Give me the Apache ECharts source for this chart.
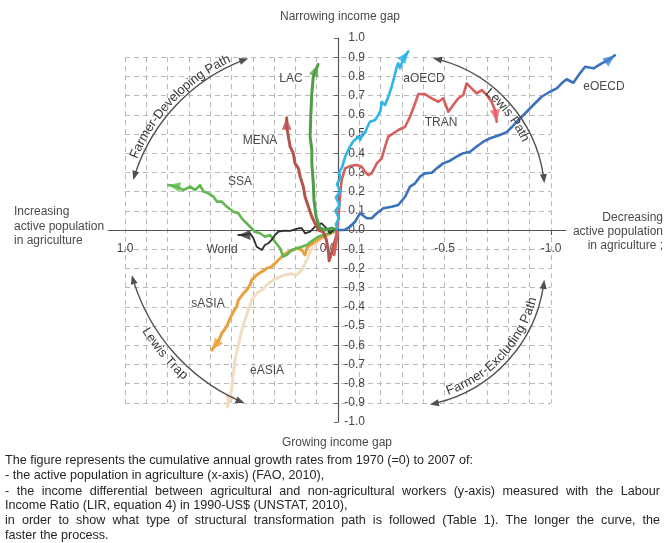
<!DOCTYPE html>
<html><head><meta charset="utf-8">
<script src="https://cdn.jsdelivr.net/npm/echarts@6/dist/echarts.min.js"></script>
<style>html,body{margin:0;padding:0;background:#fff}#c{width:667px;height:543px}</style>
</head><body><div id="c"></div>
<script>
// ---------------- DATA (cumulative growth 1970=0 .. 2007) ----------------
const xTickLabels = [1, 0, -0.5, -1];
const eOECD = [[0,0],[-0.03,0.0],[-0.056,0.017],[-0.08,0.043],[-0.103,0.087],[-0.135,0.061],[-0.158,0.061],[-0.182,0.087],[-0.213,0.113],[-0.252,0.121],[-0.283,0.13],[-0.315,0.173],[-0.338,0.226],[-0.362,0.243],[-0.385,0.278],[-0.408,0.295],[-0.44,0.298],[-0.463,0.321],[-0.494,0.347],[-0.526,0.361],[-0.557,0.382],[-0.588,0.4],[-0.62,0.408],[-0.651,0.435],[-0.682,0.46],[-0.714,0.478],[-0.753,0.492],[-0.792,0.51],[-0.815,0.535],[-0.847,0.573],[-0.886,0.616],[-0.925,0.66],[-0.956,0.694],[-0.995,0.72],[-1.027,0.738],[-1.05,0.764],[-1.073,0.785],[-1.105,0.767],[-1.136,0.816],[-1.16,0.85],[-1.2,0.842],[-1.238,0.868],[-1.27,0.885],[-1.3,0.91]];
const aOECD = [[0,0],[0.01,0.03],[-0.005,0.06],[0.012,0.1],[-0.008,0.13],[0.01,0.17],[-0.01,0.2],[0.005,0.24],[-0.012,0.27],[-0.005,0.3],[-0.02,0.33],[-0.033,0.38],[-0.045,0.41],[-0.056,0.434],[-0.07,0.46],[-0.08,0.47],[-0.095,0.486],[-0.105,0.47],[-0.115,0.5],[-0.127,0.505],[-0.135,0.53],[-0.15,0.564],[-0.174,0.573],[-0.19,0.6],[-0.2,0.625],[-0.205,0.668],[-0.221,0.651],[-0.236,0.694],[-0.252,0.746],[-0.268,0.816],[-0.276,0.851],[-0.283,0.868],[-0.291,0.842],[-0.307,0.894],[-0.33,0.93]];
const TRAN = [[0,0],[0.008,-0.06],[0.018,-0.13],[0.012,-0.07],[0.003,0.0],[-0.003,0.08],[-0.009,0.173],[-0.017,0.26],[-0.033,0.321],[-0.056,0.333],[-0.088,0.339],[-0.111,0.33],[-0.127,0.304],[-0.142,0.286],[-0.158,0.295],[-0.182,0.347],[-0.205,0.373],[-0.221,0.434],[-0.236,0.486],[-0.26,0.503],[-0.283,0.521],[-0.315,0.538],[-0.338,0.59],[-0.362,0.66],[-0.377,0.708],[-0.408,0.708],[-0.44,0.686],[-0.471,0.668],[-0.494,0.686],[-0.518,0.616],[-0.541,0.651],[-0.565,0.686],[-0.588,0.703],[-0.604,0.764],[-0.627,0.738],[-0.651,0.712],[-0.675,0.729],[-0.698,0.703],[-0.721,0.668],[-0.737,0.625],[-0.745,0.564]];
const LAC = [[0,0],[0.03,0.01],[0.06,0.0],[0.085,0.01],[0.092,0.017],[0.103,0.069],[0.113,0.156],[0.116,0.243],[0.12,0.3],[0.123,0.347],[0.123,0.417],[0.131,0.486],[0.128,0.59],[0.123,0.712],[0.116,0.8],[0.094,0.862]];
const MENA = [[0,0],[0.015,-0.06],[0.03,-0.12],[0.042,-0.16],[0.045,-0.11],[0.055,-0.05],[0.07,-0.01],[0.092,0.0],[0.108,0.035],[0.123,0.069],[0.139,0.121],[0.155,0.173],[0.163,0.226],[0.178,0.278],[0.186,0.321],[0.202,0.347],[0.21,0.4],[0.225,0.434],[0.233,0.486],[0.241,0.538],[0.241,0.585]];
const SSA = [[0,0],[0.03,-0.01],[0.05,-0.02],[0.069,-0.026],[0.092,-0.035],[0.116,-0.052],[0.147,-0.078],[0.17,-0.087],[0.194,-0.095],[0.217,-0.104],[0.241,-0.13],[0.257,-0.139],[0.272,-0.095],[0.296,-0.061],[0.319,-0.026],[0.343,-0.035],[0.366,-0.017],[0.39,-0.009],[0.413,0.017],[0.429,0.035],[0.452,0.061],[0.468,0.087],[0.491,0.095],[0.523,0.122],[0.546,0.148],[0.569,0.148],[0.585,0.174],[0.609,0.191],[0.632,0.2],[0.648,0.234],[0.671,0.208],[0.695,0.226],[0.726,0.208],[0.757,0.226],[0.797,0.234]];
const World = [[0,0],[0.022,0.0],[0.038,-0.017],[0.055,0.01],[0.077,0.035],[0.095,0.025],[0.108,0.017],[0.131,-0.009],[0.155,-0.017],[0.163,-0.017],[0.17,0.009],[0.186,0.009],[0.194,0.004],[0.225,-0.005],[0.257,-0.004],[0.28,-0.009],[0.296,-0.026],[0.312,-0.052],[0.327,-0.069],[0.343,-0.078],[0.358,-0.104],[0.382,-0.087],[0.397,-0.043],[0.413,-0.017],[0.437,-0.026],[0.468,-0.026]];
const sASIA = [[0,0],[0.03,-0.015],[0.06,-0.03],[0.085,-0.043],[0.108,-0.061],[0.131,-0.078],[0.147,-0.095],[0.155,-0.13],[0.17,-0.104],[0.194,-0.095],[0.21,-0.104],[0.233,-0.113],[0.257,-0.13],[0.28,-0.156],[0.296,-0.174],[0.312,-0.191],[0.335,-0.2],[0.358,-0.217],[0.382,-0.234],[0.405,-0.26],[0.413,-0.286],[0.429,-0.313],[0.444,-0.33],[0.468,-0.365],[0.476,-0.399],[0.491,-0.425],[0.507,-0.46],[0.523,-0.503],[0.546,-0.538],[0.562,-0.58],[0.593,-0.625]];
const eASIA = [[0,0],[0.03,-0.01],[0.06,-0.03],[0.092,-0.061],[0.116,-0.087],[0.131,-0.113],[0.139,-0.139],[0.155,-0.174],[0.17,-0.208],[0.194,-0.234],[0.22,-0.228],[0.249,-0.234],[0.272,-0.243],[0.303,-0.26],[0.335,-0.286],[0.358,-0.313],[0.382,-0.33],[0.405,-0.365],[0.421,-0.417],[0.437,-0.469],[0.452,-0.521],[0.468,-0.599],[0.484,-0.677],[0.491,-0.747],[0.5,-0.833],[0.51,-0.88],[0.52,-0.92]];

const captionLines = [
  {t:'The figure represents the cumulative annual growth rates from 1970 (=0) to 2007 of:', j:false},
  {t:'- the active population in agriculture (x-axis) (FAO, 2010),', j:false},
  {t:'- the income differential between agricultural and non-agricultural workers (y-axis) measured with the Labour', j:true},
  {t:'Income Ratio (LIR, equation 4) in 1990-US$ (UNSTAT, 2010),', j:false},
  {t:'in order to show what type of structural transformation path is followed (Table 1). The longer the curve, the', j:true},
  {t:'faster the process.', j:false}
];

// ---------------- STYLE ----------------
const FF = '"Liberation Sans", Arial, Helvetica, sans-serif';
const series = [
  {name:'eASIA', data:eASIA, color:'#f2dcc2', arrow:'#f0d6b8', w:3, lx:267, ly:371},
  {name:'sASIA', data:sASIA, color:'#e9a140', arrow:'#eea13a', w:3, lx:208, ly:304},
  {name:'SSA',   data:SSA,   color:'#62b74e', arrow:'#5fbf4c', w:2.6, lx:240, ly:182},
  {name:'World', data:World, color:'#2e2e2e', arrow:'#333333', w:1.8, lx:222, ly:250},
  {name:'MENA',  data:MENA,  color:'#b5544a', arrow:'#c0504a', w:3, lx:260, ly:141},
  {name:'LAC',   data:LAC,   color:'#4f9d47', arrow:'#55a34c', w:3, lx:291, ly:79},
  {name:'TRAN',  data:TRAN,  color:'#d65f5d', arrow:'#ee5e6c', w:2.6, lx:441, ly:123},
  {name:'aOECD', data:aOECD, color:'#2db6e6', arrow:'#27b3e8', w:2.6, lx:424, ly:79},
  {name:'eOECD', data:eOECD, color:'#3b72bb', arrow:'#3a7fcf', w:2.6, lx:604, ly:87}
];

const measureCtx = document.createElement('canvas').getContext('2d');
function tw(text, font){ measureCtx.font = font; return measureCtx.measureText(text).width; }

function txt(x, y, text, font, fill, align, valign, rot){
  return {type:'text', x:x, y:y, rotation:rot||0, silent:true, z:20,
    style:{text:text, font:font, fill:fill, textFill:fill, align:align||'center', textAlign:align||'center',
           verticalAlign:valign||'middle', textVerticalAlign:valign||'middle'}};
}

const G = [];
series.forEach(s => G.push(txt(s.lx, s.ly, s.name, '12px ' + FF, '#4a4a4a')));
G.push(txt(340, 17, 'Narrowing income gap', '12px ' + FF, '#4a4a4a'));
G.push(txt(337, 443, 'Growing income gap', '12px ' + FF, '#4a4a4a'));
['Increasing','active population','in agriculture'].forEach((t,i)=>G.push(txt(14, 212 + i*14.5, t, '12px ' + FF, '#4a4a4a', 'left')));
['Decreasing','active population','in agriculture ;'].forEach((t,i)=>G.push(txt(663, 218 + i*14, t, '12px ' + FF, '#4a4a4a', 'right')));

// curved path arrows with text
const arcs = [
  {cx:309, cy:231, r:183, a0:196.2, a1:250.6, text:'Farmer-Developing Path', tr:190, tm:224, out:true},
  {cx:403, cy:197, r:142, a0:282.2, a1:354.4, text:'Lewis Path', tr:135, tm:322, out:true},
  {cx:319, cy:224, r:194, a0:112.6, a1:164.7, text:'Lewis Trap', tr:203, tm:140, out:false},
  {cx:403, cy:265, r:142, a0:6.0, a1:79.1, text:'Farmer-Excluding Path', tr:134, tm:42.5, out:false}
];
const ARC_COL = '#505050', AL = 9, AW = 7;
arcs.forEach(a => {
  const d2r = Math.PI/180;
  const A0 = a.a0*d2r, A1 = a.a1*d2r, da = AL/a.r;
  G.push({type:'arc', silent:true, z:15, shape:{cx:a.cx, cy:a.cy, r:a.r, startAngle:A0+da*0.8, endAngle:A1-da*0.8, clockwise:true},
          style:{stroke:ARC_COL, fill:'none', lineWidth:1.4}});
  [[A0,-1],[A1,1]].forEach(([ang, sgn]) => {
    const tipx = a.cx + a.r*Math.cos(ang), tipy = a.cy + a.r*Math.sin(ang);
    const ux = -Math.sin(ang)*sgn, uy = Math.cos(ang)*sgn;
    const bx = tipx - ux*AL, by = tipy - uy*AL;
    const nx = -uy, ny = ux;
    G.push({type:'polygon', silent:true, z:15, shape:{points:[[tipx,tipy],[bx+nx*AW/2,by+ny*AW/2],[bx-nx*AW/2,by-ny*AW/2]]}, style:{fill:ARC_COL}});
  });
  const font = '13px ' + FF;
  const total = tw(a.text, font);
  const dir = a.out ? 1 : -1;
  const start = a.tm*d2r - dir*(total/2)/a.tr;
  let acc = 0;
  for (const ch of a.text) {
    const w = tw(ch, font);
    const ang = start + dir*(acc + w/2)/a.tr;
    acc += w;
    const x = a.cx + a.tr*Math.cos(ang), y = a.cy + a.tr*Math.sin(ang);
    const rot = a.out ? (1.5*Math.PI - ang) : (0.5*Math.PI - ang);
    G.push(txt(x, y, ch, font, '#3a3a3a', 'center', 'middle', rot));
  }
});

// caption (with justification)
const capFont = '12.6px ' + FF, capL = 5, capR = 660;
const capY = [461, 476, 491.5, 505.5, 521, 535.5];
captionLines.forEach((ln, i) => {
  if (!ln.j) { G.push(txt(capL, capY[i], ln.t, capFont, '#262626', 'left')); return; }
  const words = ln.t.split(' ');
  const ws = words.map(w => tw(w, capFont));
  const sum = ws.reduce((p,c)=>p+c,0);
  const gap = (capR - capL - sum)/(words.length-1);
  let x = capL;
  words.forEach((w, k) => { G.push(txt(x, capY[i], w, capFont, '#262626', 'left')); x += ws[k] + gap; });
});

// pixel layout: x = 0 at 338 px, 213 px per unit (positive to the left); y = 0 at 230 px, 192 px per unit
const axisFont = {fontSize:12, fontFamily:FF, color:'#474747'};
const hidden = {axisLine:{show:false}, axisTick:{show:false}, axisLabel:{show:false}, splitLine:{show:false}};
const option = {
  animation:false,
  backgroundColor:'#ffffff',
  grid:[
    {left:108, right:30.8, top:38, bottom:121},      // data grid (x: 1.08 .. -1.4)
    {left:125, right:116, top:57.2, bottom:140.2},   // dashed reference grid
    {left:108, right:101, top:38, bottom:121}        // visible axes (x: 1.08 .. -1.07)
  ],
  xAxis:[
    {type:'value', gridIndex:0, min:-1.4, max:1.08, inverse:true, ...hidden},
    {type:'value', gridIndex:1, min:-1, max:1, interval:0.1, inverse:true,
     axisLine:{show:false}, axisTick:{show:false}, axisLabel:{show:false},
     splitLine:{show:true, lineStyle:{color:'#b9b9b9', type:[5,4], width:1}}},
    {type:'value', gridIndex:2, min:-1.07, max:1.08, inverse:true, position:'bottom', offset:-192,
     axisLine:{onZero:false, lineStyle:{color:'#555', width:1.2}},
     axisTick:{show:true, customValues:[-1], length:5, lineStyle:{color:'#555'}},
     axisLabel:{customValues:xTickLabels, margin:13, ...axisFont,
       formatter:v => Math.abs(v) < 1e-9 ? '{z|0.0}' : v.toFixed(1),
       rich:{z:{fontSize:12, fontFamily:FF, color:'#474747', padding:[0,20,0,0]}}},
     splitLine:{show:false}}
  ],
  yAxis:[
    {type:'value', gridIndex:0, min:-1, max:1, ...hidden},
    {type:'value', gridIndex:1, min:-0.9, max:0.9, interval:0.1,
     axisLine:{show:false}, axisTick:{show:false}, axisLabel:{show:false},
     splitLine:{show:true, lineStyle:{color:'#b9b9b9', type:[5,4], width:1}}},
    {type:'value', gridIndex:2, min:-1, max:1, interval:0.1, position:'left', offset:-230,
     axisLine:{onZero:false, lineStyle:{color:'#555', width:1.2}},
     axisTick:{show:true, length:4, lineStyle:{color:'#666'}},
     axisLabel:{inside:true, align:'right', margin:27, ...axisFont, formatter:v => v.toFixed(1)},
     splitLine:{show:false}}
  ],
  series: series.map((s, i) => ({
    type:'line', name:s.name, data:s.data, xAxisIndex:0, yAxisIndex:0,
    showSymbol:false, symbol:'none', clip:false, silent:true, z:3 + i*0.01,
    lineStyle:{color:s.color, width:s.w, join:'round', cap:'round'}
  })),
  graphic:{elements:G}
};

const chart = echarts.init(document.getElementById('c'), null, {renderer:'canvas'});
chart.setOption(option);

// arrowheads at the end of each curve, oriented along the last segment
const H = 12, W = 10;
const arrowItems = series.map(s => {
  const n = s.data.length;
  const p1 = chart.convertToPixel({gridIndex:0}, s.data[n-1]);
  const p0 = chart.convertToPixel({gridIndex:0}, s.data[n-2]);
  let ux = p1[0]-p0[0], uy = p1[1]-p0[1];
  const len = Math.hypot(ux, uy) || 1; ux /= len; uy /= len;
  const deg = Math.atan2(-uy, ux)*180/Math.PI - 90;
  return {value:s.data[n-1], symbolRotate:deg, symbolOffset:[-ux*H/2, -uy*H/2], itemStyle:{color:s.arrow}};
});
chart.setOption({series: option.series.concat([{
  type:'scatter', xAxisIndex:0, yAxisIndex:0, symbol:'triangle', symbolSize:[W,H], clip:false, silent:true, z:6,
  data:arrowItems
}])});
</script>
</body></html>
